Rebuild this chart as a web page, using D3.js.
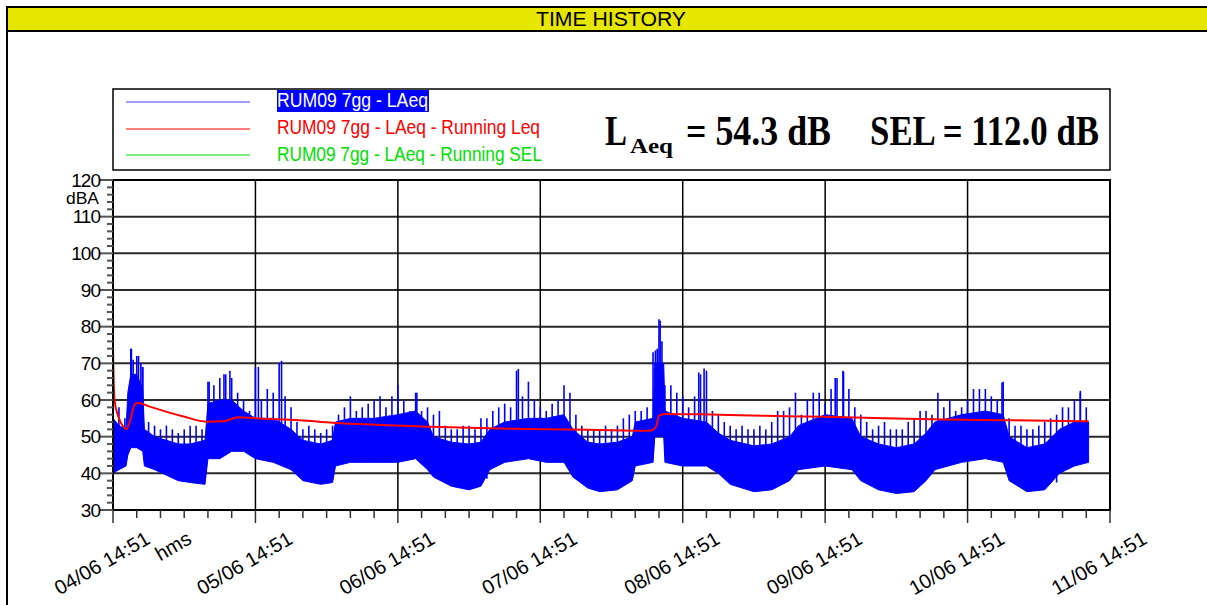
<!DOCTYPE html>
<html><head><meta charset="utf-8">
<script src="https://cdn.jsdelivr.net/npm/d3@7"></script>
<style>
body{margin:0;background:#fff;}
svg{display:block;}
text{font-family:"Liberation Sans",Arial,sans-serif;}
</style>
</head><body>
<svg id="c" width="1207" height="605"></svg>
<script>
// ---------- DATA ----------
const titleText = "TIME HISTORY";
const seriesNames = ["RUM09 7gg - LAeq", "RUM09 7gg - LAeq - Running Leq", "RUM09 7gg - LAeq - Running SEL"];
const yTickValues = [30, 40, 50, 60, 70, 80, 90, 100, 110, 120];
const dayTickLabels = ["04/06 14:51","05/06 14:51","06/06 14:51","07/06 14:51","08/06 14:51","09/06 14:51","10/06 14:51","11/06 14:51"];
const summaryLaeq = "54.3 dB";
const summarySel = "112.0 dB";

// LAeq short-interval band: hours since 04/06 14:51, lower and upper edge of dense band (dB)
const bandHours = [0,1,2.2,2.5,3,4,5,5.3,7,9,11,13,15.5,16,18,20,22,24,27,30,32,35,37,37.5,40,44,48,51,53,54,57,60,62,63.5,66,70,73,76,77.5,80,82,85,87.5,88,91,91.3,92.8,93,96,100,102,104,108,111,114,115.5,120,124.5,126,129,132,135,137,138.5,143,147,150,151,154,157,159.5,162,164.4];
const bandLow =   [40,41,42,45,47,47,46,42,41,39.5,38,37.5,37,44,44,46,46,44,43,41,38,37,37.5,42,43,43,43,44,41,39,36.5,35.5,36.5,41,43,44,43,43,39,36,35,35.5,38,42,43,50,50,43,42,42,40,37,35,35.5,38,41,42,41,38,35.5,34.5,35,38,41,43,44,43,38,35,35.5,40,42,43];
const bandHigh =  [55,53,52,62,67,67,63,52,50,49,48,48,49,59,60,60,57,55,55,52,49,48,49,54,55,55,56,57,54,50,48.5,48,48.5,52,54,55,55,56,52,48.5,48,48.5,50,54,55,70,70,57,55,54,51,49,47.5,48,50,53,56,55,50,48,47,48,51,54,56,57,56,50,47,48,52,54,54];

// hourly spike maxima (dB), hour 0 .. 164
const hourlyPeak = [
 57,58,55,74,72,69,54,53,52,53,
 52,51,52,53,53,52,65,64,66,67,
 66,62,60,57,69,60,63,62,70,61,
 58,54,52,53,52,51,52,53,56,58,
 61,57,58,59,60,61,58,61,64,60,
 57,62,57,58,56,57,53,52,52,53,
 53,52,55,55,57,58,59,58,68,61,
 65,60,58,57,59,60,64,62,56,53,
 52,52,52,53,52,53,55,56,57,57,
 58,73,82,64,64,62,61,58,61,67,
 68,57,56,54,53,52,53,52,52,53,
 52,54,57,57,58,62,56,60,62,62,
 59,63,66,68,63,58,56,54,52,53,
 54,52,52,52,54,55,57,57,56,62,
 58,60,57,58,60,63,63,63,61,60,
 65,55,53,53,52,52,53,54,55,56,
 58,58,60,62,58];
// extra isolated spikes (hour, dB)
const spikeHours = [3.1,3.4,4.3,4.7,5.0,16.2,18.7,19.7,24.5,28.4,51.2,68.3,91.4,91.7,92.2,92.5,98.7,99.6,121.7,123.1,149.8,163.0];
const spikeValues = [74,71,72,70,69,65,67,68,69,70.7,62,68.5,73.5,74,81.6,76,67.5,68.6,66,67.7,64.8,62.5];

// running Leq (hour, dB)
const leqHours = [0,0.1,0.25,0.9,1.75,2.3,2.9,3.7,4.3,6.2,11.9,15.8,18.6,21.1,24,31.5,37,45,52,60,70,80,90.5,91.5,92,93,99,110,120,130,140,150,164.4];
const leqValues = [74,66,60,55.5,52.7,52.1,54.5,58.9,59.2,58.2,55.5,54.1,54.2,55.3,55,54.5,53.8,53.2,52.8,52.4,52.1,51.9,51.6,52.7,55.7,56.2,56.1,55.7,55.4,55,54.7,54.5,54.2];

// ---------- DRAWING ----------
const svg = d3.select("#c");
const start = new Date(2009, 5, 4, 14, 51);
const hr = h => new Date(start.getTime() + h * 3600e3);
const x = d3.scaleTime().domain([start, hr(24 * 7)]).range([113, 1110]);
const y = d3.scaleLinear().domain([30, 120]).range([510, 180]);

// outer frame and title bar
svg.append("rect").attr("x", 7).attr("y", 7).attr("width", 1260).attr("height", 700)
  .attr("fill", "#fff").attr("stroke", "#000").attr("stroke-width", 2);
svg.append("rect").attr("x", 7).attr("y", 7).attr("width", 1260).attr("height", 24)
  .attr("fill", "#e6e600").attr("stroke", "#000").attr("stroke-width", 2);
svg.append("text").attr("x", 536).attr("y", 26)
  .attr("font-size", 20).attr("textLength", 150).attr("lengthAdjust", "spacingAndGlyphs")
  .attr("fill", "#000").text(titleText);

// legend box
svg.append("rect").attr("x", 113).attr("y", 89).attr("width", 997).attr("height", 81)
  .attr("fill", "none").attr("stroke", "#000").attr("stroke-width", 1.5);
const legColors = ["#4040ff", "#ff0000", "#00dd00"];
const legTextColors = ["#ffffff", "#ff0000", "#00e000"];
const legLineY = [102, 129, 155];
const legTextY = [107, 134, 161];
const legLen = [151, 263, 265];
svg.append("rect").attr("x", 277).attr("y", 90).attr("width", 152).attr("height", 22).attr("fill", "#0000ff");
seriesNames.forEach((n, i) => {
  svg.append("line").attr("x1", 126).attr("x2", 250).attr("y1", legLineY[i]).attr("y2", legLineY[i])
    .attr("stroke", legColors[i]).attr("stroke-width", 1.2);
  svg.append("text").attr("x", 277).attr("y", legTextY[i]).attr("font-size", 20)
    .attr("textLength", legLen[i]).attr("lengthAdjust", "spacingAndGlyphs")
    .attr("fill", legTextColors[i]).text(n);
});

// summary text
const serif = '"Liberation Serif","Times New Roman",serif';
const sg = svg.append("g").attr("font-weight", "bold").attr("fill", "#000");
sg.append("text").attr("x", 605).attr("y", 145).attr("font-size", 42).attr("textLength", 22)
  .attr("lengthAdjust", "spacingAndGlyphs").style("font-family", serif).text("L");
sg.append("text").attr("x", 630).attr("y", 153).attr("font-size", 22).attr("textLength", 43)
  .attr("lengthAdjust", "spacingAndGlyphs").style("font-family", serif).text("Aeq");
sg.append("text").attr("x", 686).attr("y", 145).attr("font-size", 42).attr("textLength", 145)
  .attr("lengthAdjust", "spacingAndGlyphs").style("font-family", serif).text("= " + summaryLaeq);
sg.append("text").attr("x", 870).attr("y", 145).attr("font-size", 42).attr("textLength", 229)
  .attr("lengthAdjust", "spacingAndGlyphs").style("font-family", serif).text("SEL = " + summarySel);

// grid
const days = d3.range(0, 8).map(d => hr(24 * d));
svg.append("g").selectAll("line").data(yTickValues.slice(1, -1)).join("line")
  .attr("x1", 113).attr("x2", 1110).attr("y1", d => y(d)).attr("y2", d => y(d))
  .attr("stroke", "#2a2a2a").attr("stroke-width", 2);
svg.append("g").selectAll("line").data(days.slice(1, -1)).join("line")
  .attr("x1", d => x(d)).attr("x2", d => x(d)).attr("y1", 180).attr("y2", 510)
  .attr("stroke", "#000").attr("stroke-width", 1.5);

// clip
svg.append("clipPath").attr("id", "clip").append("rect")
  .attr("x", 113).attr("y", 180).attr("width", 997).attr("height", 330);
const plot = svg.append("g").attr("clip-path", "url(#clip)");

// blue LAeq band
const band = bandHours.map((h, i) => ({t: hr(h), lo: bandLow[i], hi: bandHigh[i]}));
plot.append("path").datum(band)
  .attr("d", d3.area().x(d => x(d.t)).y0(d => y(d.lo)).y1(d => y(d.hi)))
  .attr("fill", "#0000ff").attr("stroke", "#0000ff").attr("stroke-width", 1);
const loAt = h => {
  const i = d3.bisectRight(bandHours, h) - 1;
  return bandLow[Math.max(0, Math.min(i, bandLow.length - 1))];
};
const spikes = hourlyPeak.map((v, h) => ({h, v})).concat(spikeHours.map((h, i) => ({h, v: spikeValues[i]})));
plot.append("g").selectAll("line").data(spikes).join("line")
  .attr("x1", d => x(hr(d.h))).attr("x2", d => x(hr(d.h)))
  .attr("y1", d => y(loAt(d.h) + 2)).attr("y2", d => y(d.v))
  .attr("stroke", "#0000ff").attr("stroke-width", 1.6);

// red running Leq
plot.append("path").datum(leqHours.map((h, i) => ({t: hr(h), v: leqValues[i]})))
  .attr("d", d3.line().x(d => x(d.t)).y(d => y(d.v)).curve(d3.curveMonotoneX))
  .attr("fill", "none").attr("stroke", "#ff0000").attr("stroke-width", 2);

// plot border
svg.append("rect").attr("x", 113).attr("y", 180).attr("width", 997).attr("height", 330)
  .attr("fill", "none").attr("stroke", "#000").attr("stroke-width", 2);

// y axis ticks
const yMinor = d3.range(30, 121, 2).filter(v => v % 10 !== 0);
svg.append("g").selectAll("line").data(yMinor).join("line")
  .attr("x1", 107).attr("x2", 113).attr("y1", d => y(d)).attr("y2", d => y(d))
  .attr("stroke", "#555").attr("stroke-width", 2);
svg.append("g").selectAll("line").data(yTickValues).join("line")
  .attr("x1", 100).attr("x2", 113).attr("y1", d => y(d)).attr("y2", d => y(d))
  .attr("stroke", "#555").attr("stroke-width", 2);
svg.append("g").selectAll("text").data(yTickValues).join("text")
  .attr("x", 100).attr("y", d => y(d) + 6.7).attr("text-anchor", "end")
  .attr("font-size", 19).attr("letter-spacing", -1).attr("fill", "#000").text(d => d);
svg.append("text").attr("x", 66).attr("y", 204).attr("font-size", 16.5)
  .attr("textLength", 33).attr("lengthAdjust", "spacingAndGlyphs").text("dBA");

// x axis ticks
const xMinor = d3.range(0, 24 * 7 + 1, 4).filter(h => h % 24 !== 0).map(hr);
svg.append("g").selectAll("line").data(xMinor).join("line")
  .attr("x1", d => x(d)).attr("x2", d => x(d)).attr("y1", 510).attr("y2", 518)
  .attr("stroke", "#333").attr("stroke-width", 1.5);
svg.append("g").selectAll("line").data(days).join("line")
  .attr("x1", d => x(d)).attr("x2", d => x(d)).attr("y1", 510).attr("y2", 523)
  .attr("stroke", "#333").attr("stroke-width", 1.5);
svg.append("g").selectAll("text").data(days).join("text")
  .attr("transform", d => `translate(${x(d) - 11},${563}) rotate(-30)`)
  .attr("text-anchor", "middle").attr("dy", "0.35em").attr("font-size", 20)
  .attr("textLength", 106).attr("lengthAdjust", "spacingAndGlyphs")
  .text((d, i) => dayTickLabels[i]);
svg.append("text").attr("transform", "translate(173,546) rotate(-30)")
  .attr("text-anchor", "middle").attr("dy", "0.35em").attr("font-size", 20).text("hms");
</script>
</body></html>
